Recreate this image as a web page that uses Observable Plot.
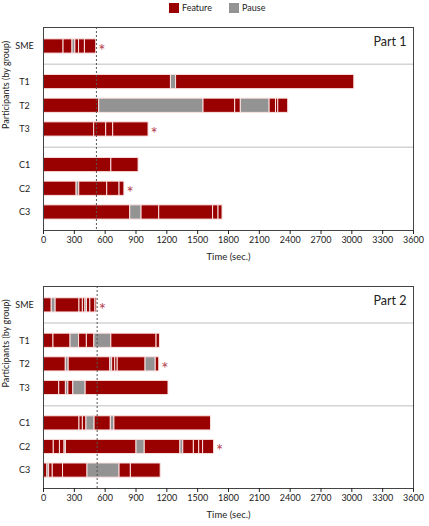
<!DOCTYPE html>
<html><head><meta charset="utf-8">
<script src="https://cdn.jsdelivr.net/npm/d3@7"></script>
<script src="https://cdn.jsdelivr.net/npm/@observablehq/plot@0.6"></script>
<style>
body{margin:0;background:#fff;font-family:Lato,sans-serif;}
#legend{position:relative;height:20px;width:429px;font-size:9px;color:#222;}
#legend .sw{position:absolute;top:3px;width:10px;height:10px;}
#legend .lb{position:absolute;top:2px;line-height:12px;}
svg{display:block;}
</style></head><body>
<div id="legend"></div><div id="chart1"></div><div id="chart2"></div>
<script>
// ---- data ----
const participants = ["SME", "T1", "T2", "T3", "C1", "C2", "C3"];
const groups = ["SME", "T", "T", "T", "C", "C", "C"];
const types = ["Feature", "Pause"];
const typeColors = ["#990000", "#939393"];
const xTicks = [0, 300, 600, 900, 1200, 1500, 1800, 2100, 2400, 2700, 3000, 3300, 3600];

// each segment: [end time (sec), type] ; starts where the previous one ended
const part1_SME = [[195,"F"],[282,"F"],[310,"P"],[346,"F"],[403,"F"],[513,"F"]];
const part1_T1  = [[1240,"F"],[1290,"P"],[3024,"F"]];
const part1_T2  = [[542,"F"],[1557,"P"],[1865,"F"],[1920,"F"],[2200,"P"],[2262,"F"],[2284,"F"],[2381,"F"]];
const part1_T3  = [[493,"F"],[610,"F"],[678,"F"],[1022,"F"]];
const part1_C1  = [[660,"F"],[925,"F"]];
const part1_C2  = [[322,"F"],[348,"P"],[620,"F"],[740,"F"],[787,"F"]];
const part1_C3  = [[844,"F"],[954,"P"],[1126,"F"],[1650,"F"],[1703,"F"],[1742,"F"]];

const part2_SME = [[80,"F"],[118,"P"],[350,"F"],[383,"F"],[408,"F"],[423,"P"],[456,"F"],[505,"F"],[518,"F"]];
const part2_T1  = [[97,"F"],[263,"F"],[346,"P"],[422,"F"],[495,"F"],[660,"P"],[1100,"F"],[1133,"F"]];
const part2_T2  = [[217,"F"],[245,"P"],[650,"F"],[668,"P"],[698,"F"],[722,"F"],[993,"F"],[1092,"P"],[1126,"F"]];
const part2_T3  = [[153,"F"],[218,"F"],[242,"P"],[290,"F"],[410,"P"],[1216,"F"]];
const part2_C1  = [[350,"F"],[383,"F"],[418,"F"],[497,"P"],[655,"F"],[690,"P"],[1630,"F"]];
const part2_C2  = [[100,"F"],[160,"F"],[205,"F"],[218,"P"],[905,"F"],[985,"P"],[1332,"F"],[1360,"P"],[1463,"F"],[1515,"F"],[1553,"F"],[1660,"F"]];
const part2_C3  = [[38,"F"],[55,"P"],[90,"F"],[190,"F"],[428,"F"],[740,"P"],[850,"F"],[1140,"F"]];

const part1_asterisk = ["SME", "T3", "C2"];
const part2_asterisk = ["SME", "T2", "C2"];
const part1_reference = 515;
const part2_reference = 522;

// ---- layout helpers ----
const rowPos = [];
{ let off = 0; participants.forEach((p, i) => { if (i > 0 && groups[i] !== groups[i-1]) off += 0.5; rowPos.push(i + off); }); }
const separators = [];
for (let i = 1; i < participants.length; i++) if (groups[i] !== groups[i-1]) separators.push((rowPos[i] + rowPos[i-1]) / 2);

function buildSegments(rows) {
  const out = [];
  rows.forEach((row, i) => {
    let start = 0;
    row.forEach(([end, t]) => {
      out.push({participant: participants[i], pos: rowPos[i], x1: start, x2: end, type: t === "F" ? "Feature" : "Pause"});
      start = end;
    });
  });
  return out;
}

function makeChart(rows, asterisks, ref, title, mt, ph, mb) {
  const segs = buildSegments(rows);
  const ends = rows.map((row, i) => ({participant: participants[i], pos: rowPos[i], end: row[row.length-1][0]}))
                   .filter(d => asterisks.includes(d.participant));
  return Plot.plot({
    width: 429, height: mt + ph + mb,
    marginLeft: 43, marginRight: 16, marginTop: mt, marginBottom: mb,
    style: {fontFamily: "Lato, sans-serif", fontSize: "9px", color: "#222", background: "white"},
    x: {domain: [0, 3600]},
    y: {domain: [-0.8, 7.76], reverse: true},
    color: {domain: types, range: typeColors},
    marks: [
      Plot.ruleY(separators, {stroke: "#d4d4d4", strokeWidth: 1.5}),
      Plot.rect(segs, {x1: "x1", x2: "x2", y1: d => d.pos - 0.3, y2: d => d.pos + 0.3, fill: "type", stroke: "#fbe2e2", strokeWidth: 1}),
      Plot.ruleX([ref], {stroke: "#555", strokeWidth: 1, strokeDasharray: "2,2"}),
      Plot.text(ends, {x: "end", y: "pos", text: () => "*", textAnchor: "start", dx: 2, dy: 5, fill: "#b5414f", fontSize: 17}),
      Plot.text([title], {frameAnchor: "top-right", dx: -7, dy: 10, fontSize: 12.5, fill: "#222"}),
      Plot.frame({stroke: "#444"}),
      Plot.axisX(xTicks, {tickSize: 4, tickPadding: 2, label: null, fontSize: 9, tickFormat: d => String(d)}),
      Plot.axisY(rowPos, {tickFormat: d => participants[rowPos.indexOf(d)], tickSize: 0, textAnchor: "middle", tickPadding: 19, label: null, fontSize: 9}),
      Plot.text(["Time (sec.)"], {frameAnchor: "bottom", dy: 29, fontSize: 9.5, fill: "#222"}),
      Plot.text(["Participants (by group)"], {frameAnchor: "left", dx: -37, rotate: -90, fontSize: 9, fill: "#222"})
    ]
  });
}

// legend
const lg = document.getElementById("legend");
const legendX = [[169, 182], [229, 242]];
types.forEach((t, i) => {
  const sw = document.createElement("div"); sw.className = "sw"; sw.style.left = legendX[i][0] + "px"; sw.style.background = typeColors[i];
  const lb = document.createElement("div"); lb.className = "lb"; lb.style.left = legendX[i][1] + "px"; lb.textContent = t;
  lg.appendChild(sw); lg.appendChild(lb);
});

document.getElementById("chart1").appendChild(
  makeChart([part1_SME, part1_T1, part1_T2, part1_T3, part1_C1, part1_C2, part1_C3], part1_asterisk, part1_reference, "Part 1", 7, 203, 36));
document.getElementById("chart2").appendChild(
  makeChart([part2_SME, part2_T1, part2_T2, part2_T3, part2_C1, part2_C2, part2_C3], part2_asterisk, part2_reference, "Part 2", 20, 202, 38));
</script></body></html>
